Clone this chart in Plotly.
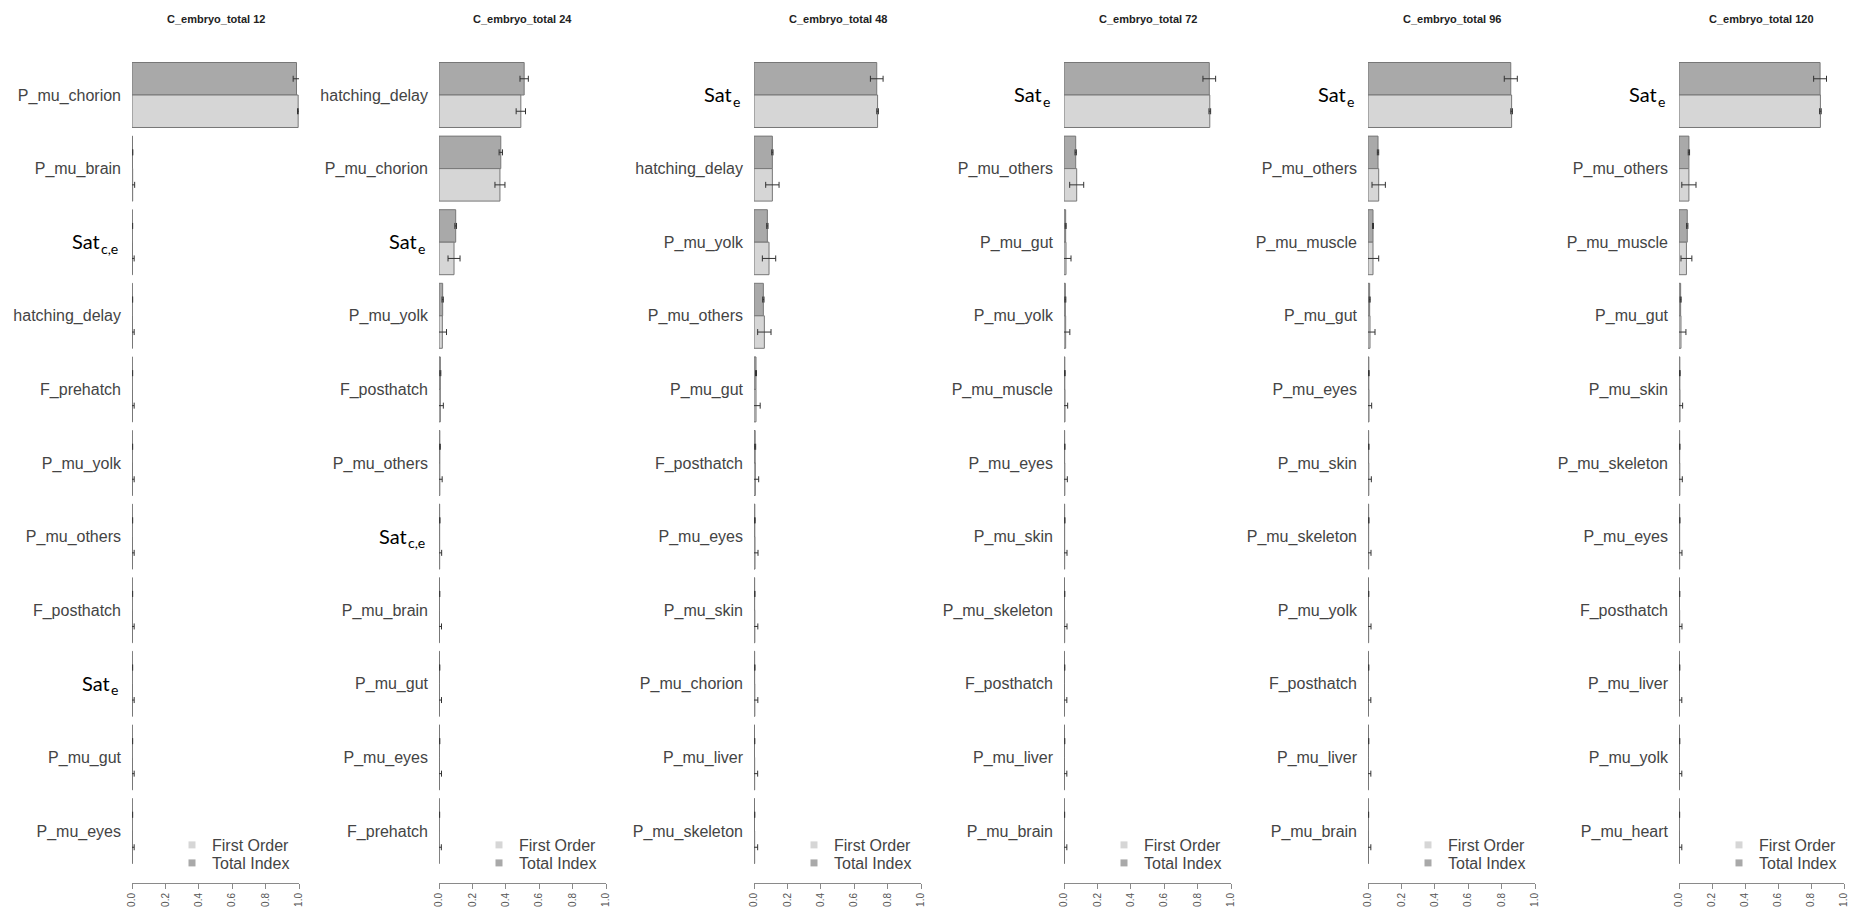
import plotly.graph_objects as go

# ---------------- data ----------------
titles = ["C_embryo_total 12", "C_embryo_total 24", "C_embryo_total 48",
          "C_embryo_total 72", "C_embryo_total 96", "C_embryo_total 120"]

labels_12 = ["P_mu_chorion", "P_mu_brain", "Sat_c,e", "hatching_delay", "F_prehatch", "P_mu_yolk",
             "P_mu_others", "F_posthatch", "Sat_e", "P_mu_gut", "P_mu_eyes"]
labels_24 = ["hatching_delay", "P_mu_chorion", "Sat_e", "P_mu_yolk", "F_posthatch", "P_mu_others",
             "Sat_c,e", "P_mu_brain", "P_mu_gut", "P_mu_eyes", "F_prehatch"]
labels_48 = ["Sat_e", "hatching_delay", "P_mu_yolk", "P_mu_others", "P_mu_gut", "F_posthatch",
             "P_mu_eyes", "P_mu_skin", "P_mu_chorion", "P_mu_liver", "P_mu_skeleton"]
labels_72 = ["Sat_e", "P_mu_others", "P_mu_gut", "P_mu_yolk", "P_mu_muscle", "P_mu_eyes",
             "P_mu_skin", "P_mu_skeleton", "F_posthatch", "P_mu_liver", "P_mu_brain"]
labels_96 = ["Sat_e", "P_mu_others", "P_mu_muscle", "P_mu_gut", "P_mu_eyes", "P_mu_skin",
             "P_mu_skeleton", "P_mu_yolk", "F_posthatch", "P_mu_liver", "P_mu_brain"]
labels_120 = ["Sat_e", "P_mu_others", "P_mu_muscle", "P_mu_gut", "P_mu_skin", "P_mu_skeleton",
              "P_mu_eyes", "F_posthatch", "P_mu_liver", "P_mu_yolk", "P_mu_heart"]

total_12 = [0.985, 0.003, 0.002, 0.002, 0.002, 0.002, 0.002, 0.002, 0.002, 0.002, 0.002]
total_err_12 = [0.02, 0.002, 0.002, 0.002, 0.002, 0.002, 0.002, 0.002, 0.002, 0.002, 0.002]
first_12 = [0.995, 0.004, 0.003, 0.003, 0.003, 0.003, 0.003, 0.003, 0.003, 0.003, 0.003]
first_err_12 = [0.004, 0.012, 0.01, 0.01, 0.01, 0.01, 0.01, 0.01, 0.01, 0.01, 0.01]

total_24 = [0.51, 0.37, 0.10, 0.022, 0.008, 0.005, 0.004, 0.003, 0.003, 0.003, 0.002]
total_err_24 = [0.025, 0.01, 0.005, 0.004, 0.003, 0.003, 0.002, 0.002, 0.002, 0.002, 0.002]
first_24 = [0.49, 0.365, 0.09, 0.02, 0.008, 0.005, 0.004, 0.003, 0.003, 0.003, 0.002]
first_err_24 = [0.028, 0.03, 0.036, 0.025, 0.018, 0.014, 0.012, 0.012, 0.012, 0.012, 0.012]

total_48 = [0.735, 0.11, 0.08, 0.056, 0.012, 0.007, 0.005, 0.004, 0.004, 0.003, 0.003]
total_err_48 = [0.038, 0.004, 0.004, 0.004, 0.003, 0.003, 0.002, 0.002, 0.002, 0.002, 0.002]
first_48 = [0.74, 0.11, 0.09, 0.062, 0.012, 0.008, 0.006, 0.005, 0.005, 0.004, 0.004]
first_err_48 = [0.005, 0.04, 0.04, 0.04, 0.025, 0.02, 0.018, 0.018, 0.018, 0.018, 0.018]

total_72 = [0.87, 0.07, 0.01, 0.008, 0.005, 0.004, 0.004, 0.003, 0.003, 0.003, 0.002]
total_err_72 = [0.038, 0.004, 0.003, 0.003, 0.002, 0.002, 0.002, 0.002, 0.002, 0.002, 0.002]
first_72 = [0.873, 0.076, 0.012, 0.01, 0.006, 0.005, 0.004, 0.004, 0.003, 0.003, 0.003]
first_err_72 = [0.005, 0.042, 0.03, 0.025, 0.016, 0.015, 0.014, 0.014, 0.014, 0.014, 0.014]

total_96 = [0.855, 0.06, 0.03, 0.01, 0.005, 0.004, 0.004, 0.003, 0.003, 0.003, 0.002]
total_err_96 = [0.039, 0.004, 0.003, 0.003, 0.002, 0.002, 0.002, 0.002, 0.002, 0.002, 0.002]
first_96 = [0.86, 0.064, 0.03, 0.012, 0.006, 0.005, 0.004, 0.004, 0.003, 0.003, 0.003]
first_err_96 = [0.005, 0.04, 0.034, 0.03, 0.016, 0.015, 0.014, 0.014, 0.014, 0.014, 0.014]

total_120 = [0.855, 0.06, 0.05, 0.01, 0.005, 0.004, 0.004, 0.003, 0.003, 0.003, 0.002]
total_err_120 = [0.039, 0.004, 0.004, 0.003, 0.002, 0.002, 0.002, 0.002, 0.002, 0.002, 0.002]
first_120 = [0.857, 0.06, 0.045, 0.012, 0.006, 0.005, 0.004, 0.004, 0.003, 0.003, 0.003]
first_err_120 = [0.005, 0.043, 0.033, 0.03, 0.016, 0.015, 0.014, 0.014, 0.014, 0.014, 0.014]

x_ticks = [0.0, 0.2, 0.4, 0.6, 0.8, 1.0]
x_ticktext = ["0.0", "0.2", "0.4", "0.6", "0.8", "1.0"]
legend_names = ["First Order", "Total Index"]

panels = [
    (labels_12, total_12, total_err_12, first_12, first_err_12),
    (labels_24, total_24, total_err_24, first_24, first_err_24),
    (labels_48, total_48, total_err_48, first_48, first_err_48),
    (labels_72, total_72, total_err_72, first_72, first_err_72),
    (labels_96, total_96, total_err_96, first_96, first_err_96),
    (labels_120, total_120, total_err_120, first_120, first_err_120),
]

# ---------------- styling / layout ----------------
W, H = 1851, 915
panel_left_px = [132, 439, 754, 1064, 1368, 1679]
panel_w_px = [167, 167, 167, 167, 167, 165]
plot_top_px, plot_bot_px = 54.5, 883
row_px = 73.6
first_row_center_px = 95
n_rows = 11
y_top = -(first_row_center_px - plot_top_px) / row_px
y_bot = (n_rows - 1) + (plot_bot_px - (first_row_center_px + (n_rows - 1) * row_px)) / row_px
legend_rows_px = [845, 863]

C_TOTAL = "#a9a9a9"
C_FIRST = "#d6d6d6"
C_EDGE = "#777777"
C_ERR = "#333333"
SANS = "Liberation Sans, Arial, sans-serif"
LABEL_FONT = dict(family=SANS, size=16, color="#444444")
SAT_FONT = dict(family="Lato, sans-serif", size=20, color="#000000")
SUB_FONT = dict(family="Lato, sans-serif", size=14, color="#000000")
SUB_CHAR_W = {"e": 0.53, "c": 0.47, ",": 0.24}
LABEL_GAP = 10
SAT_GAP = 12

fig = go.Figure()
layout = dict(
    width=W, height=H,
    margin=dict(l=0, r=0, t=0, b=0),
    paper_bgcolor="white", plot_bgcolor="white",
    barmode="group", bargap=0.117, bargroupgap=0.0,
    showlegend=True,
    annotations=[],
)

for k, (labels, tot, tot_err, fst, fst_err) in enumerate(panels):
    idx = "" if k == 0 else str(k + 1)
    xa, ya = "x" + idx, "y" + idx
    rows = list(range(len(labels)))

    fig.add_trace(go.Bar(
        x=tot, y=rows, orientation="h", name=legend_names[1],
        xaxis=xa, yaxis=ya, showlegend=False,
        marker=dict(color=C_TOTAL, line=dict(color=C_EDGE, width=1)),
        error_x=dict(type="data", array=tot_err, color=C_ERR, thickness=1, width=3),
    ))
    fig.add_trace(go.Bar(
        x=fst, y=rows, orientation="h", name=legend_names[0],
        xaxis=xa, yaxis=ya, showlegend=False,
        marker=dict(color=C_FIRST, line=dict(color=C_EDGE, width=1)),
        error_x=dict(type="data", array=fst_err, color=C_ERR, thickness=1, width=3),
    ))
    # legend entries (small squares, as in the original), one legend box per entry
    for j, (name, col) in enumerate(zip(legend_names, [C_FIRST, C_TOTAL])):
        n = 2 * k + j + 1
        leg = "legend" if n == 1 else "legend%d" % n
        fig.add_trace(go.Scatter(
            x=[None], y=[None], mode="markers", name=name, legend=leg,
            xaxis=xa, yaxis=ya,
            marker=dict(symbol="square", size=7, color=col),
        ))
        layout[leg] = dict(
            x=(panel_left_px[k] + 40) / W, y=(H - legend_rows_px[j]) / H,
            xanchor="left", yanchor="middle",
            bgcolor="rgba(0,0,0,0)", borderwidth=0,
            font=dict(family=SANS, size=16, color="#444444"),
            itemwidth=30, tracegroupgap=0,
        )

    x0 = panel_left_px[k] / W
    x1 = (panel_left_px[k] + panel_w_px[k]) / W
    layout["xaxis" + idx] = dict(
        domain=[x0, x1], anchor=ya, range=[0, 1],
        showgrid=False, zeroline=False,
        showline=True, linecolor="#8a8a8a", linewidth=1,
        ticks="outside", ticklen=5, tickcolor="#8a8a8a",
        tickvals=x_ticks, ticktext=x_ticktext, tickangle=-90,
        tickfont=dict(family=SANS, size=10, color="#555555"),
        automargin=False, fixedrange=True,
    )
    layout["yaxis" + idx] = dict(
        domain=[(H - plot_bot_px) / H, (H - plot_top_px) / H], anchor=xa,
        range=[y_bot, y_top],
        showgrid=False, zeroline=False, showline=False, ticks="",
        tickvals=rows, ticktext=["" if s.startswith("Sat_") else s for s in labels],
        tickfont=LABEL_FONT, ticklabelstandoff=LABEL_GAP,
        automargin=False, fixedrange=True,
    )
    # "Sat" labels (overlaid in a different font in the original), with subscript
    for r, s in zip(rows, labels):
        if not s.startswith("Sat_"):
            continue
        base, sub = s.split("_", 1)
        sub_w = sum(SUB_CHAR_W.get(c, 0.5) for c in sub) * SUB_FONT["size"]
        layout["annotations"].append(dict(
            text=base, xref=xa, yref=ya, x=0, y=r, xanchor="right", yanchor="middle",
            xshift=-(SAT_GAP + sub_w + 1), yshift=1, showarrow=False, font=SAT_FONT,
        ))
        layout["annotations"].append(dict(
            text=sub, xref=xa, yref=ya, x=0, y=r, xanchor="right", yanchor="middle",
            xshift=-SAT_GAP, yshift=-6, showarrow=False, font=SUB_FONT,
        ))
    layout["annotations"].append(dict(
        text="<b>%s</b>" % titles[k], xref=xa + " domain", yref="paper",
        x=0.5, y=(H - 19) / H, xanchor="center", yanchor="middle", showarrow=False,
        font=dict(family=SANS, size=11, color="#222222"),
    ))

fig.update_layout(**layout)
fig.write_html("out.html", config={"displayModeBar": False},
               post_script="document.body.style.margin='0px';")
